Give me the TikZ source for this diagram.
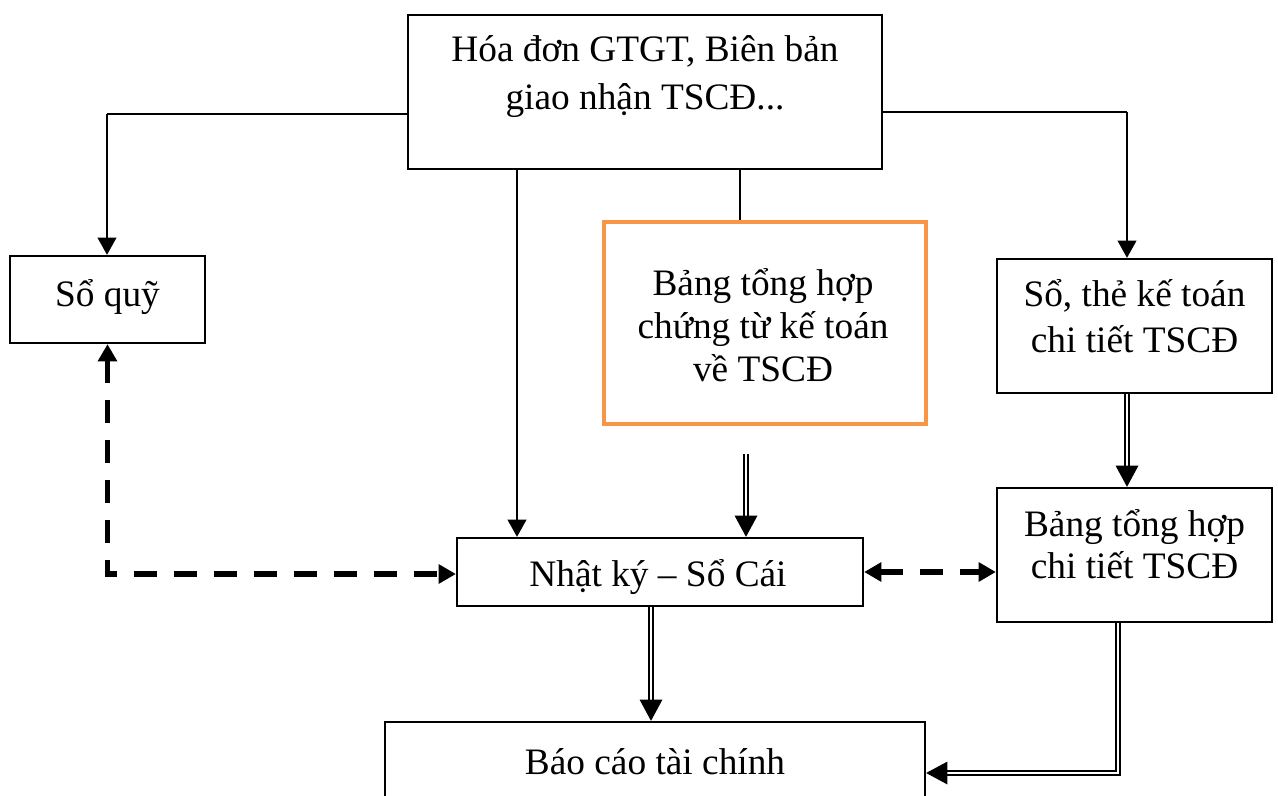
\documentclass[tikz,border=0pt]{standalone}
\usepackage{fontspec}
\setmainfont{Liberation Serif}
\usetikzlibrary{arrows.meta,calc}
\definecolor{boxorange}{HTML}{F79646}
\begin{document}
\begin{tikzpicture}[x=0.75pt,y=-0.75pt,
  box/.style={draw=black,line width=1.7pt,fill=white,inner sep=0pt},
  orangebox/.style={draw=boxorange,line width=3pt,fill=white,inner sep=0pt},
  lbl/.style={align=center,inner sep=0pt,font=\fontsize{28}{32}\selectfont},
  thinln/.style={draw=black,line width=0.9pt},
  plainln/.style={draw=black,line width=1.7pt},
  solidarr/.style={draw=black,line width=1.7pt,-{Triangle[width=14pt,length=13pt]}},
  dbl/.style={draw=black,double=white,line width=1.2pt,double distance=2pt,shorten >=10pt},
  dbltip/.style={draw=black,line width=1pt,-{Triangle[width=17pt,length=16pt]}},
  dashln/.style={draw=black,line width=3.8pt,dash pattern=on 17pt off 13pt,
    {Triangle[width=14pt,length=13pt]}-{Triangle[width=14pt,length=13pt]}}]
\useasboundingbox (0,0) rectangle (1278,796);

% boxes
\node[box,minimum width=355.5pt,minimum height=115.5pt] (top) at (645,92) {};
\node[box,minimum width=146.25pt,minimum height=65.25pt] (soquy) at (107.5,299.5) {};
\node[box,minimum width=206.25pt,minimum height=100.5pt] (the) at (1134.5,326) {};
\node[orangebox,minimum width=241.5pt,minimum height=151.5pt] (bth) at (765,323) {};
\node[box,minimum width=304.5pt,minimum height=51pt] (nk) at (660,572) {};
\node[box,minimum width=206.25pt,minimum height=100.5pt] (ct) at (1134.5,555) {};
\node[box,minimum width=405pt,minimum height=81pt] (bc) at (655,776) {};

% texts
\node[lbl] (toptxt) at (645,77) {Hóa đơn GTGT, Biên bản\\[4pt]giao nhận TSCĐ...};
\node[lbl] (soquytxt) at (107.5,297) {Sổ quỹ};
\node[lbl] (thetxt) at (1134.5,316) {Sổ, thẻ kế toán\\[2pt]chi tiết TSCĐ};
\node[lbl] (bthtxt) at (763,325) {Bảng tổng hợp\\chứng từ kế toán\\về TSCĐ};
\node[lbl] (nktxt) at (658,577) {Nhật ký – Sổ Cái};
\node[lbl] (cttxt) at (1134.5,544) {Bảng tổng hợp\\chi tiết TSCĐ};
\node[lbl] (bctxt) at (655,762) {Báo cáo tài chính};

% solid connectors from the source documents
\coordinate (jl) at (107,114);
\draw[thinln] (top.west |- jl) -- (jl);
\draw[solidarr] (jl) -- (jl |- soquy.north);
\coordinate (jr) at (1127,112);
\draw[thinln] (top.east |- jr) -- (jr);
\draw[solidarr] (jr) -- (jr |- the.north);
\coordinate (m1) at (517,0);
\draw[solidarr] (top.south -| m1) -- (nk.north -| m1);
\coordinate (m2) at (740,0);
\draw[plainln] (top.south -| m2) -- (bth.north -| m2);

% double connectors
\coordinate (d1) at (746,454);
\draw[dbl] (d1) -- (d1 |- nk.north);
\draw[dbltip] ($(d1 |- nk.north)+(0,-16)$) -- (d1 |- nk.north);

\coordinate (d2) at (651,0);
\draw[dbl] (nk.south -| d2) -- (bc.north -| d2);
\draw[dbltip] ($(bc.north -| d2)+(0,-16)$) -- (bc.north -| d2);

\coordinate (d3) at (1127,0);
\draw[dbl] (the.south -| d3) -- (ct.north -| d3);
\draw[dbltip] ($(ct.north -| d3)+(0,-16)$) -- (ct.north -| d3);

\coordinate (d4) at (1118,773);
\draw[dbl] (ct.south -| d4) |- (bc.east |- d4);
\draw[dbltip] ($(bc.east |- d4)+(16,0)$) -- (bc.east |- d4);

% dashed two-way connectors
\coordinate (q1) at (107,574);
\draw[dashln] (soquy.south) |- (nk.west |- q1);
\coordinate (q2) at (0,572);
\draw[dashln] (nk.east |- q2) -- (ct.west |- q2);
\end{tikzpicture}
\end{document}
